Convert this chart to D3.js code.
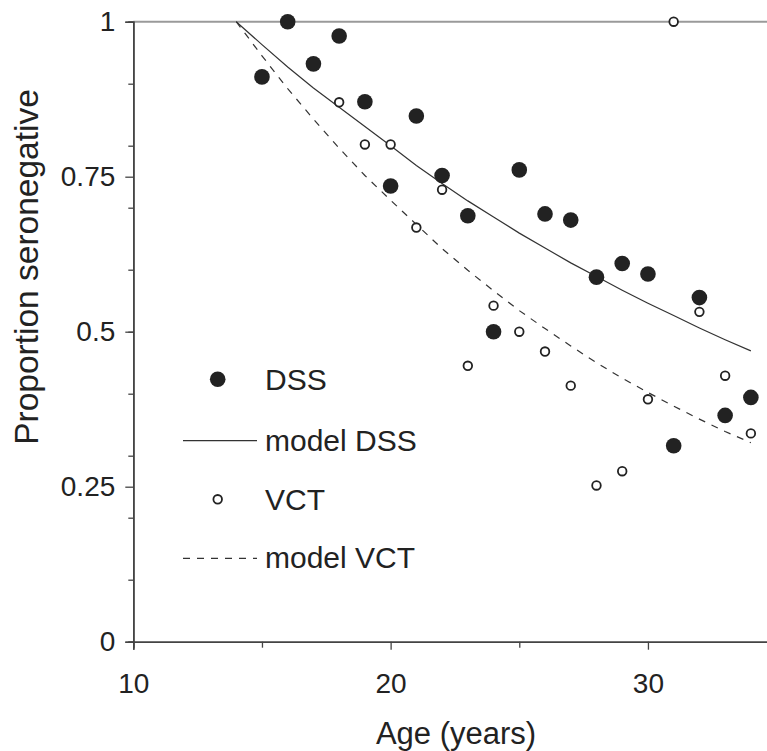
<!DOCTYPE html>
<html>
<head>
<meta charset="utf-8">
<script src="https://cdn.jsdelivr.net/npm/d3@7"></script>
<style>
  body { margin: 0; background: #fff; }
  text { font-family: "Liberation Sans", Arial, sans-serif; fill: #222; }
</style>
</head>
<body>
<div id="chart"></div>
<script>
// observed proportions
const dssAges = [15, 16, 17, 18, 19, 20, 21, 22, 23, 24, 25, 26, 27, 28, 29, 30, 31, 32, 33, 34];
const dssValues = [0.911, 1.0, 0.932, 0.977, 0.871, 0.735, 0.848, 0.752, 0.687, 0.500,
  0.761, 0.690, 0.680, 0.588, 0.610, 0.593, 0.316, 0.555, 0.365, 0.394];
const vctAges = [18, 19, 20, 21, 22, 23, 24, 25, 26, 27, 28, 29, 30, 31, 32, 33, 34];
const vctValues = [0.870, 0.802, 0.802, 0.668, 0.729, 0.445, 0.542, 0.500, 0.468,
  0.413, 0.252, 0.275, 0.391, 1.0, 0.532, 0.429, 0.336];

// fitted model curves
const modelAges = [14, 15, 16, 17, 18, 19, 20, 21, 22, 23, 24, 25, 26, 27, 28, 29, 30, 31, 32, 33, 34];
const modelDss = [1.0, 0.963, 0.927, 0.893, 0.862, 0.831, 0.800, 0.768, 0.739, 0.711, 0.685,
  0.659, 0.635, 0.611, 0.589, 0.567, 0.546, 0.526, 0.506, 0.487, 0.469];
const modelVct = [1.0, 0.945, 0.892, 0.843, 0.796, 0.752, 0.712, 0.673, 0.634, 0.599, 0.566,
  0.534, 0.505, 0.477, 0.450, 0.425, 0.402, 0.380, 0.359, 0.339, 0.321];

const xTicks = [10, 20, 30];
const xMinorTicks = [15, 25, 35];
const yTicks = [0, 0.25, 0.5, 0.75, 1];
const yMinorTicks = [0, 0.1, 0.2, 0.3, 0.4, 0.5, 0.6, 0.7, 0.8, 0.9, 1];

const width = 767;
const height = 751;

const svg = d3.select("#chart")
  .append("svg")
  .attr("width", width)
  .attr("height", height);

const x = d3.scaleLinear().domain([10, 35]).range([133.3, 776.6]);
const y = d3.scaleLinear().domain([0, 1]).range([641.7, 21.7]);

// reference line at 1
svg.append("line")
  .attr("x1", x(10)).attr("x2", width)
  .attr("y1", y(1)).attr("y2", y(1))
  .attr("stroke", "#9a9a9a")
  .attr("stroke-width", 2);

// axes
const yMinor = svg.append("g")
  .attr("transform", `translate(${x(10)},0)`)
  .call(d3.axisLeft(y).tickValues(yMinorTicks).tickSize(5).tickFormat(""));
const yMajor = svg.append("g")
  .attr("transform", `translate(${x(10)},0)`)
  .call(d3.axisLeft(y).tickValues(yTicks).tickSize(8).tickPadding(10)
    .tickFormat(d => String(d)));
const xMinor = svg.append("g")
  .attr("transform", `translate(0,${y(0)})`)
  .call(d3.axisBottom(x).tickValues(xMinorTicks).tickSize(6).tickFormat(""));
const xMajor = svg.append("g")
  .attr("transform", `translate(0,${y(0)})`)
  .call(d3.axisBottom(x).tickValues(xTicks).tickSize(8).tickPadding(23));

[yMinor, yMajor, xMinor, xMajor].forEach(g => {
  g.select(".domain").attr("stroke", "#444").attr("stroke-width", 1.6);
  g.selectAll(".tick line").attr("stroke", "#444").attr("stroke-width", 1.3);
  g.selectAll("text").style("font-size", "28px").attr("fill", "#222");
});

// model curves
const line = d3.line()
  .x((d, i) => x(modelAges[i]))
  .y(d => y(d));

svg.append("path")
  .datum(modelDss)
  .attr("d", line)
  .attr("fill", "none")
  .attr("stroke", "#333")
  .attr("stroke-width", 1.2);

svg.append("path")
  .datum(modelVct)
  .attr("d", line)
  .attr("fill", "none")
  .attr("stroke", "#333")
  .attr("stroke-width", 1.2)
  .attr("stroke-dasharray", "7,7");

// data points
svg.selectAll(".dss")
  .data(dssValues)
  .enter()
  .append("circle")
  .attr("class", "dss")
  .attr("cx", (d, i) => x(dssAges[i]))
  .attr("cy", d => y(d))
  .attr("r", 7.8)
  .attr("fill", "#222");

svg.selectAll(".vct")
  .data(vctValues)
  .enter()
  .append("circle")
  .attr("class", "vct")
  .attr("cx", (d, i) => x(vctAges[i]))
  .attr("cy", d => y(d))
  .attr("r", 4.3)
  .attr("fill", "#fff")
  .attr("stroke", "#222")
  .attr("stroke-width", 1.8);

// legend
const legend = svg.append("g");
const lx = 183, tx = 265;

legend.append("circle").attr("cx", 217.7).attr("cy", 379.3).attr("r", 7.8).attr("fill", "#222");
legend.append("text").attr("x", tx).attr("y", 390).text("DSS");

legend.append("line").attr("x1", lx).attr("x2", 257).attr("y1", 440.7).attr("y2", 440.7)
  .attr("stroke", "#333").attr("stroke-width", 1.2);
legend.append("text").attr("x", tx).attr("y", 451).text("model DSS");

legend.append("circle").attr("cx", 217.7).attr("cy", 499.3).attr("r", 4.3)
  .attr("fill", "#fff").attr("stroke", "#222").attr("stroke-width", 1.8);
legend.append("text").attr("x", tx).attr("y", 510).text("VCT");

legend.append("line").attr("x1", lx).attr("x2", 257).attr("y1", 558.3).attr("y2", 558.3)
  .attr("stroke", "#333").attr("stroke-width", 1.2).attr("stroke-dasharray", "7,7");
legend.append("text").attr("x", tx).attr("y", 568).text("model VCT");

legend.selectAll("text").style("font-size", "30px");

// axis titles
svg.append("text")
  .attr("x", 456)
  .attr("y", 744)
  .attr("text-anchor", "middle")
  .style("font-size", "31px")
  .text("Age (years)");

svg.append("text")
  .attr("transform", "translate(37.5,267) rotate(-90)")
  .attr("text-anchor", "middle")
  .style("font-size", "33.5px")
  .text("Proportion seronegative");
</script>
</body>
</html>
